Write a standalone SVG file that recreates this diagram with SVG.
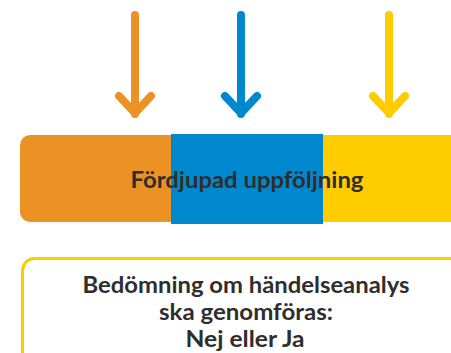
<svg xmlns="http://www.w3.org/2000/svg" width="451" height="353" viewBox="0 0 451 353">
<style>
.arr{fill:none;stroke-width:8;stroke-linecap:round;stroke-linejoin:round}
.t{font-family:Lato,"Liberation Sans",sans-serif;font-weight:bold;fill:#2e2e2e;text-anchor:middle}
</style>
<g id="connectors">
<path class="arr" stroke="#EC9224" d="M135,15 V114 M119,96 L135,113 L151,96"/>
<path class="arr" stroke="#0088CE" d="M241,15 V114 M225,96 L241,113 L257,96"/>
<path class="arr" stroke="#FFCC00" d="M389,15 V114 M373,96 L389,113 L405,96"/>
</g>
<g id="bar">
<rect x="20" y="135" width="200" height="87" rx="10" fill="#EC9224"/>
<rect x="300" y="135" width="151" height="87" fill="#FFCC00"/>
<rect x="171" y="134" width="152" height="90" fill="#0088CE"/>
<text class="t" x="247" y="188" font-size="23" textLength="233" lengthAdjust="spacingAndGlyphs">Fördjupad uppföljning</text>
</g>
<g id="decision">
<rect x="22.5" y="258.5" width="450" height="120" rx="12" fill="#fff" stroke="#FFCC00" stroke-width="3"/>
<text class="t" font-size="23" x="246"><tspan x="246" y="293" textLength="327" lengthAdjust="spacingAndGlyphs">Bedömning om händelseanalys</tspan><tspan x="246" y="320" textLength="174" lengthAdjust="spacingAndGlyphs">ska genomföras:</tspan><tspan x="245" y="347" textLength="119" lengthAdjust="spacingAndGlyphs">Nej eller Ja</tspan></text>
</g>
</svg>
